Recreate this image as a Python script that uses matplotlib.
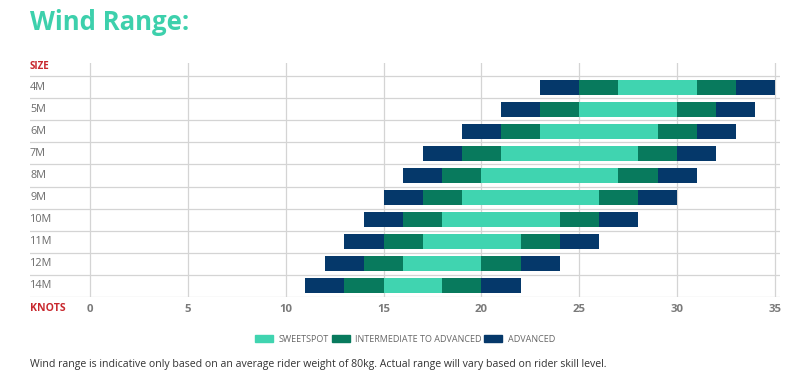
import matplotlib
matplotlib.use("Agg")
import matplotlib.pyplot as plt
from matplotlib.patches import Patch

SIZES = ["4M", "5M", "6M", "7M", "8M", "9M", "10M", "11M", "12M", "14M"]
# segment boundaries (knots): adv | int | sweetspot | int | adv
ADV_LO = [23, 21, 19, 17, 16, 15, 14, 13, 12, 11]
INT_LO = [25, 23, 21, 19, 18, 17, 16, 15, 14, 13]
SWEET_LO = [27, 25, 23, 21, 20, 19, 18, 17, 16, 15]
SWEET_HI = [31, 30, 29, 28, 27, 26, 24, 22, 20, 18]
INT_HI = [33, 32, 31, 30, 29, 28, 26, 24, 22, 20]
ADV_HI = [35, 34, 33, 32, 31, 30, 28, 26, 24, 22]
XTICKS = [0, 5, 10, 15, 20, 25, 30, 35]

SWEET, INTER, ADV = "#40d4b0", "#087a5d", "#05386a"
RED, GRAY, GRID = "#c8282e", "#6b6b6b", "#d4d4d4"

fig = plt.figure(figsize=(8, 3.78), dpi=100)
ax = fig.add_axes([30 / 800, 1 - 297 / 378, 750 / 800, 234 / 378])
ax.set_xlim(-3.07, 35.26)
ax.set_ylim(9.5, -1.09)

for x in XTICKS:
    ax.axvline(x, color=GRID, lw=0.9, zorder=0)
for i in range(len(SIZES) + 1):
    ax.axhline(i - 0.5, color=GRID, lw=0.9, zorder=0)

h = 0.68
for i in range(len(SIZES)):
    segs = [(ADV_LO[i], INT_LO[i], ADV), (INT_LO[i], SWEET_LO[i], INTER),
            (SWEET_LO[i], SWEET_HI[i], SWEET), (SWEET_HI[i], INT_HI[i], INTER),
            (INT_HI[i], ADV_HI[i], ADV)]
    for lo, hi, c in segs:
        ax.barh(i, hi - lo, left=lo, height=h, color=c, lw=0, zorder=2)
    ax.text(-3.07, i, SIZES[i], ha="left", va="center", fontsize=7.8,
            color=GRAY, family="Open Sans")

ax.text(-3.07, -0.95, "SIZE", ha="left", va="center", fontsize=7,
        color=RED, weight="bold", family="Open Sans")
ax.text(-3.07, 10.0, "KNOTS", ha="left", va="center", fontsize=7.6,
        color=RED, weight="bold", family="Open Sans")

ax.set_xticks(XTICKS)
ax.set_xticklabels([str(x) for x in XTICKS], fontsize=8.2, color="#7a7a7a",
                   weight="bold", family="Open Sans")
ax.tick_params(axis="x", length=0, pad=5)
ax.set_yticks([])
for s in ax.spines.values():
    s.set_visible(False)

fig.text(30 / 800, 1 - 22 / 378, "Wind Range:", fontsize=18.5, weight="bold",
         color="#3dd0ac", family="Open Sans", ha="left", va="center")

handles = [Patch(color=SWEET), Patch(color=INTER), Patch(color=ADV)]
fig.legend(handles, ["SWEETSPOT", "INTERMEDIATE TO ADVANCED", "ADVANCED"],
           loc="center", bbox_to_anchor=(405 / 800, 1 - 339 / 378), ncol=3,
           frameon=False, handlelength=2.0, handleheight=0.9,
           handletextpad=0.6, columnspacing=0.3, labelcolor="#666666",
           prop={"family": "Open Sans", "size": 6.5})

fig.text(30 / 800, 1 - 364 / 378,
         "Wind range is indicative only based on an average rider weight of 80kg. "
         "Actual range will vary based on rider skill level.",
         fontsize=7.6, color="#333333", family="Open Sans", ha="left", va="center")

fig.savefig("out.png", dpi=100)
